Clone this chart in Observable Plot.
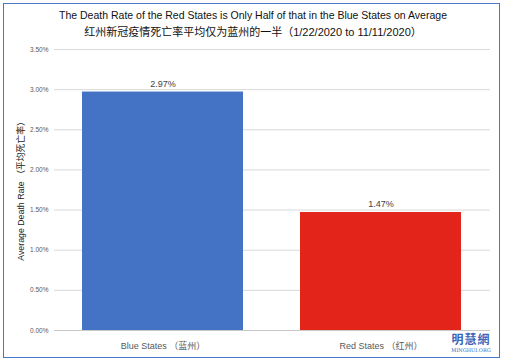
<!DOCTYPE html>
<html>
<head>
<meta charset="utf-8">
<script src="https://cdn.jsdelivr.net/npm/d3@7"></script>
<script src="https://cdn.jsdelivr.net/npm/@observablehq/plot@0.6"></script>
<style>
  html, body { margin: 0; padding: 0; background: #fff; }
  #wrap { position: relative; width: 506px; height: 364px; overflow: hidden; font-family: "Liberation Sans", "Noto Sans CJK SC", sans-serif; }
  #frame { position: absolute; left: 3px; top: 3px; width: 497px; height: 355px; border: 1.5px solid #4a78c8; box-sizing: border-box; pointer-events: none; }
  .t { position: absolute; left: 0; width: 506px; text-align: center; color: #111; white-space: nowrap; }
  #t1 { top: 9px; font-size: 10.5px; }
  #t2 { top: 23px; font-size: 11px; }
  #ylab { position: absolute; left: 20px; top: 189px; transform: translate(-50%, -50%) rotate(-90deg); white-space: nowrap; font-size: 8.8px; color: #222; }
  #chart { position: absolute; left: 0; top: 0; }
  #logo { position: absolute; left: 446px; top: 332px; width: 50px; text-align: center; color: #3a64b8; }
  #logo .a { font-size: 12px; font-weight: bold; letter-spacing: 1px; font-family: "Noto Sans CJK TC", sans-serif; line-height: 14px; height: 14px; }
  #logo .b { font-size: 5px; font-family: "DejaVu Serif", serif; line-height: 7px; margin-top: 1px; }
</style>
</head>
<body>
<div id="wrap">
  <div id="chart"></div>
  <div class="t" id="t1">The Death Rate of the Red States is Only Half of that in the Blue States on Average</div>
  <div class="t" id="t2">红州新冠疫情死亡率平均仅为蓝州的一半（1/22/2020 to 11/11/2020）</div>
  <div id="ylab"></div>
  <div id="logo"><div class="a">明慧網</div><div class="b">MINGHUI.ORG</div></div>
  <div id="frame"></div>
</div>
<script>
const categories = ["Blue States （蓝州）", "Red States （红州）"];
const rates = [0.0297, 0.0147];
const barColors = ["#4472C4", "#E3241B"];
const yTicks = [0, 0.005, 0.01, 0.015, 0.02, 0.025, 0.03, 0.035];
const yLabel = "Average Death Rate （平均死亡率）";

document.getElementById("ylab").textContent = yLabel;
const data = categories.map((c, i) => ({cat: c, rate: rates[i], color: barColors[i]}));

const chart = Plot.plot({
  width: 506,
  height: 364,
  marginTop: 49,
  marginBottom: 34,
  marginLeft: 54,
  marginRight: 16,
  style: {fontFamily: "'Liberation Sans', 'Noto Sans CJK SC', sans-serif", background: "transparent"},
  x: {domain: categories, paddingInner: 0.26, paddingOuter: 0.13, label: null},
  y: {domain: [0, 0.035], label: null},
  marks: [
    Plot.gridY(yTicks, {stroke: "#d9d9d9", strokeOpacity: 1}),
    Plot.axisY(yTicks, {tickFormat: d3.format(".2%"), tickSize: 0, tickPadding: 6, fontSize: 6.5, color: "#595959", label: null}),
    Plot.axisX({tickSize: 0, tickPadding: 12, fontSize: 9, color: "#595959", label: null}),
    Plot.barY(data, {x: "cat", y: "rate", fill: "color"}),
    Plot.ruleY([0], {stroke: "#c8c8c8"}),
    Plot.text(data, {x: "cat", y: "rate", text: d => d3.format(".2%")(d.rate), dy: -8, fontSize: 9, fill: "#404040"})
  ]
});
document.getElementById("chart").appendChild(chart);
</script>
</body>
</html>
